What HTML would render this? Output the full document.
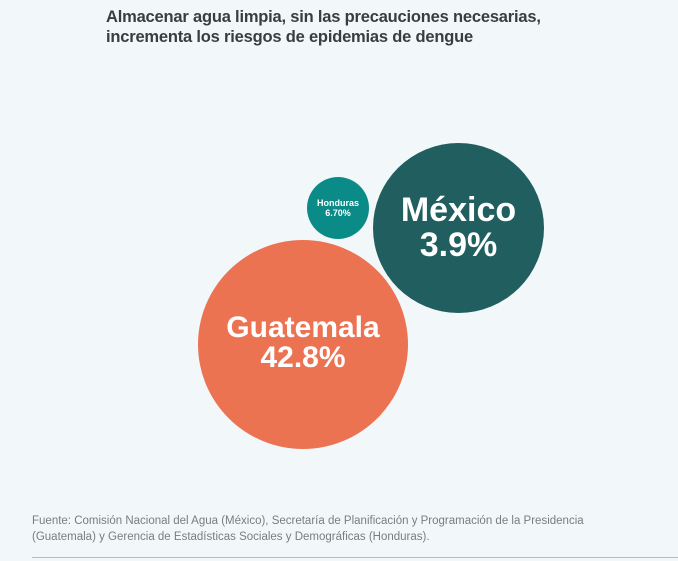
<!DOCTYPE html>
<html><head><meta charset="utf-8"><style>
body{margin:0;width:678px;height:561px;background:#f2f7f9;position:relative;overflow:hidden;font-family:"Liberation Sans",sans-serif}
.t{position:absolute;left:106px;top:7px;font-size:16.5px;font-weight:bold;color:#3a3d40;line-height:20px;letter-spacing:-0.2px}
.c{position:absolute;border-radius:50%;display:flex;align-items:center;justify-content:center;flex-direction:column;color:#fff;font-weight:bold;text-align:center}
.f{position:absolute;left:32px;top:513px;font-size:11.5px;color:#7a7d80;line-height:16px}
.l{position:absolute;left:32px;top:557px;width:646px;height:1px;background:#b8bcc0}
</style></head><body>
<div class="t">Almacenar agua limpia, sin las precauciones necesarias,<br>incrementa los riesgos de epidemias de dengue</div>
<div class="c" style="left:198px;top:240px;width:210px;height:209px;background:#ec7352;font-size:30px;line-height:30px;padding-bottom:4px;box-sizing:border-box">Guatemala<br>42.8%</div>
<div class="c" style="left:373px;top:143px;width:171px;height:170px;background:#205e5f;font-size:34px;line-height:35px">México<br>3.9%</div>
<div class="c" style="left:307px;top:177px;width:62px;height:62px;background:#0b8b88;font-size:9px;line-height:10px">Honduras<br>6.70%</div>
<div class="f">Fuente: Comisión Nacional del Agua (México), Secretaría de Planificación y Programación de la Presidencia<br>(Guatemala) y Gerencia de Estadísticas Sociales y Demográficas (Honduras).</div>
<div class="l"></div>
</body></html>
